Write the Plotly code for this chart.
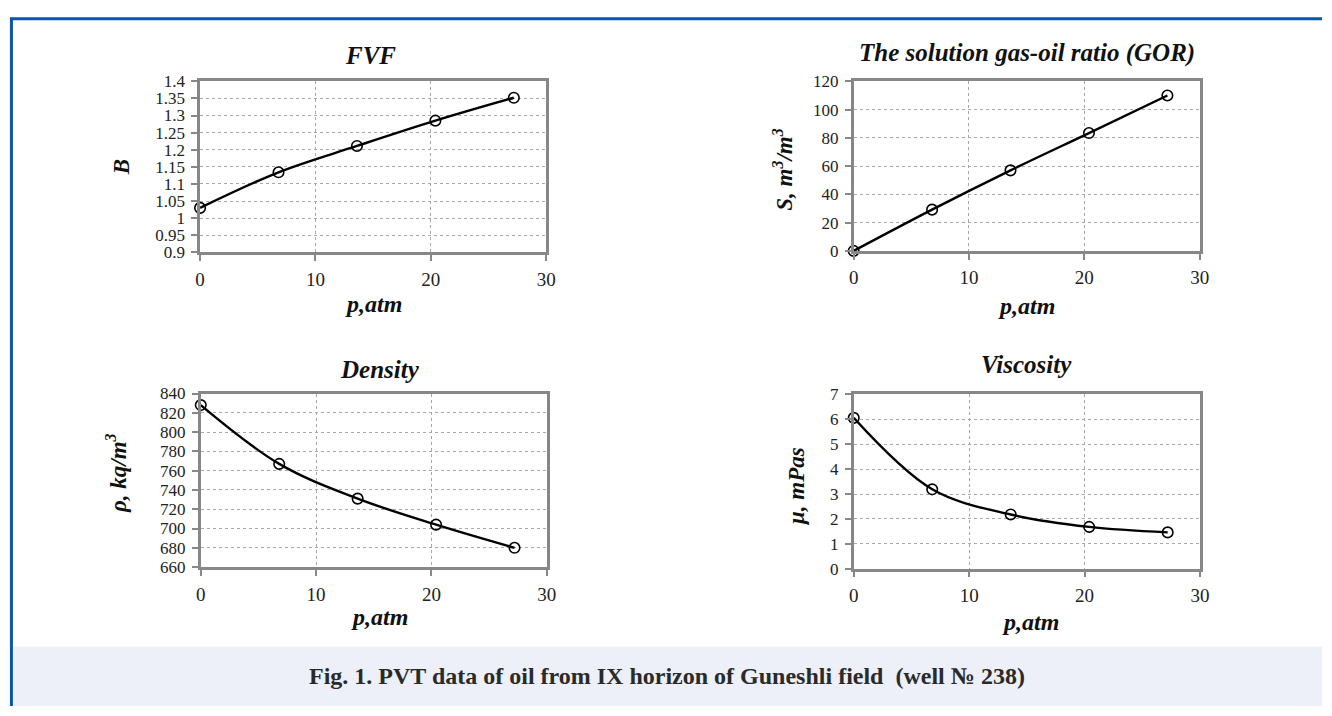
import plotly.graph_objects as go

# ---------------- data ----------------
pressure_atm = [0, 6.8, 13.6, 20.4, 27.2]
fvf_B = [1.030, 1.134, 1.211, 1.285, 1.352]
gor_S = [0, 29.2, 57.0, 83.4, 110.0]
density_rho = [828, 767, 731, 704, 680]
viscosity_mu = [6.06, 3.19, 2.18, 1.68, 1.46]

x_ticks = [0, 10, 20, 30]
fvf_ticks = [0.9, 0.95, 1.0, 1.05, 1.1, 1.15, 1.2, 1.25, 1.3, 1.35, 1.4]
fvf_ticklabels = ["0.9", "0.95", "1", "1.05", "1.1", "1.15", "1.2", "1.25", "1.3", "1.35", "1.4"]
gor_ticks = [0, 20, 40, 60, 80, 100, 120]
density_ticks = [660, 680, 700, 720, 740, 760, 780, 800, 820, 840]
visc_ticks = [0, 1, 2, 3, 4, 5, 6, 7]

titles = ["FVF", "The solution gas-oil ratio (GOR)", "Density", "Viscosity"]
y_titles = ["B", "S, m<sup>3</sup>/m<sup>3</sup>", "ρ, kq/m<sup>3</sup>", "μ, mPas"]
x_title = "p,atm"
caption = "Fig. 1. PVT data of oil from IX horizon of Guneshli field  (well № 238)"

# ---------------- layout helpers ----------------
W, H = 1332, 716


def xd(a, b):
    return [a / W, b / W]


def yd(top, bottom):
    return [1 - bottom / H, 1 - top / H]


def px(x):
    return x / W


def py(y):
    return 1 - y / H


FONT = "Liberation Serif"
AXIS_GRAY = "#878787"
GRID_GRAY = "#a8a8a8"
YTICK_SIZE = 17
XTICK_SIZE = 19

panels = [
    dict(xdom=(197.3, 547.3), ydom=(74.3, 250.0), y=fvf_B, yt=fvf_ticks, ytl=fvf_ticklabels,
         yr=[0.9, 1.4], title_xy=(370, 48), xt_xy=(373, 303), yt_xy=(118, 163)),
    dict(xdom=(858.3, 1208.3), ydom=(74.3, 248.5), y=gor_S, yt=gor_ticks, ytl=[str(v) for v in gor_ticks],
         yr=[0, 120], title_xy=(1034, 45), xt_xy=(1033, 305), yt_xy=(787, 165)),
    dict(xdom=(198.0, 548.0), ydom=(395.0, 573.3), y=density_rho, yt=density_ticks,
         ytl=[str(v) for v in density_ticks], yr=[660, 840], title_xy=(379, 370), xt_xy=(379, 625),
         yt_xy=(113, 477)),
    dict(xdom=(858.4, 1208.6), ydom=(396.0, 575.0), y=viscosity_mu, yt=visc_ticks,
         ytl=[str(v) for v in visc_ticks], yr=[0, 7], title_xy=(1033, 365), xt_xy=(1037, 630),
         yt_xy=(801, 490)),
]

fig = go.Figure()
layout = dict(
    width=W, height=H, margin=dict(l=0, r=0, t=0, b=0),
    paper_bgcolor="white", plot_bgcolor="white", showlegend=False,
    font=dict(family=FONT, color="#222222"),
)

annotations = []
for i, p in enumerate(panels, start=1):
    sfx = "" if i == 1 else str(i)
    fig.add_trace(go.Scatter(
        x=pressure_atm, y=p["y"], mode="lines+markers",
        line=dict(color="black", width=2.4, shape="spline", smoothing=1.0),
        marker=dict(symbol="circle-open", size=10.5, color="black", line=dict(width=1.6, color="black")),
        xaxis="x" + sfx, yaxis="y" + sfx, cliponaxis=False,
    ))
    layout["xaxis" + sfx] = dict(
        domain=xd(*p["xdom"]), anchor="y" + sfx, range=[0, 30], tickvals=x_ticks,
        ticktext=[str(v) for v in x_ticks],
        showline=True, linecolor=AXIS_GRAY, linewidth=2.5, mirror=True,
        ticks="outside", ticklen=6, tickwidth=2, tickcolor=AXIS_GRAY,
        showgrid=True, gridcolor=GRID_GRAY, griddash="dot", gridwidth=1,
        zeroline=False, ticklabelstandoff=2,
        tickfont=dict(family=FONT, size=XTICK_SIZE, color="#222222"),
    )
    layout["yaxis" + sfx] = dict(
        domain=yd(*p["ydom"]), anchor="x" + sfx, range=p["yr"], tickvals=p["yt"], ticktext=p["ytl"],
        showline=True, linecolor=AXIS_GRAY, linewidth=2.5, mirror=True,
        ticks="outside", ticklen=6, tickwidth=2, tickcolor=AXIS_GRAY,
        showgrid=True, gridcolor=GRID_GRAY, griddash="dot", gridwidth=1,
        zeroline=False, ticklabelstandoff=3,
        tickfont=dict(family=FONT, size=YTICK_SIZE, color="#222222"),
    )
    tx, ty = p["title_xy"]
    annotations.append(dict(text="<b><i>" + titles[i - 1] + "</i></b>", x=px(tx), y=py(ty),
                            xref="paper", yref="paper", showarrow=False, xanchor="center",
                            yanchor="middle", font=dict(family=FONT, size=25, color="#111111")))
    ax_, ay_ = p["xt_xy"]
    annotations.append(dict(text="<b><i>" + x_title + "</i></b>", x=px(ax_), y=py(ay_),
                            xref="paper", yref="paper", showarrow=False, xanchor="center",
                            yanchor="middle", font=dict(family=FONT, size=24, color="#111111")))
    yx, yy = p["yt_xy"]
    annotations.append(dict(text="<b><i>" + y_titles[i - 1] + "</i></b>", x=px(yx), y=py(yy),
                            xref="paper", yref="paper", showarrow=False, xanchor="center",
                            yanchor="middle", textangle=-90,
                            font=dict(family=FONT, size=23, color="#111111")))

annotations.append(dict(text="<b>" + caption + "</b>", x=px(670), y=py(685), xref="paper", yref="paper",
                        showarrow=False, xanchor="center", yanchor="middle",
                        font=dict(family=FONT, size=24, color="#2a2a2a")))
layout["annotations"] = annotations

layout["shapes"] = [
    dict(type="rect", xref="paper", yref="paper", x0=px(8), x1=1, y0=0, y1=py(655),
         fillcolor="#edf0f8", line=dict(width=0), layer="below"),
    dict(type="line", xref="paper", yref="paper", x0=px(5), x1=1, y0=py(10), y1=py(10),
         line=dict(color="#0d56a6", width=3)),
    dict(type="line", xref="paper", yref="paper", x0=px(6.5), x1=px(6.5), y0=0, y1=py(9),
         line=dict(color="#0d56a6", width=3)),
]

fig.update_layout(**layout)
fig.write_html("out.html")
